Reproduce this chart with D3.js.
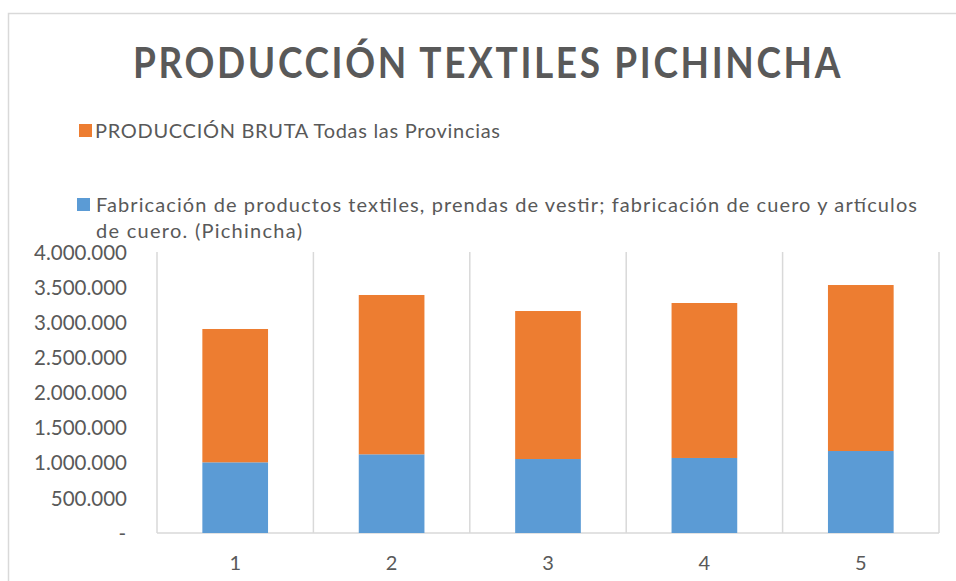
<!DOCTYPE html>
<html>
<head>
<meta charset="utf-8">
<script src="https://cdn.jsdelivr.net/npm/d3@7"></script>
<style>
  body { margin: 0; background: #fff; }
  text { font-family: Lato, "Open Sans", sans-serif; fill: #595959; }
</style>
</head>
<body>
<svg id="chart" width="956" height="581"></svg>
<script>
// data
var categories = ["1", "2", "3", "4", "5"];
var fabricacion = [1006000, 1120000, 1053000, 1068000, 1167000];   // blue, bottom
var produccionBruta = [1898000, 2268000, 2107000, 2206000, 2363000]; // orange, top
var yTicks = [0, 500000, 1000000, 1500000, 2000000, 2500000, 3000000, 3500000, 4000000];

var seriesNames = [
  "Fabricación de productos textiles, prendas de vestir; fabricación de cuero y artículos de cuero. (Pichincha)",
  "PRODUCCIÓN BRUTA Todas las Provincias"
];
var colors = ["#5B9BD5", "#ED7D31"];

var svg = d3.select("#chart");

// chart border (cropped at right/bottom)
svg.append("rect")
  .attr("x", 8.5).attr("y", 13.5)
  .attr("width", 1000).attr("height", 1000)
  .attr("fill", "none")
  .attr("stroke", "#d9d9d9")
  .attr("stroke-width", 1.5);

// title
svg.append("text")
  .attr("x", 133).attr("y", 78)
  .attr("textLength", 710)
  .attr("lengthAdjust", "spacingAndGlyphs")
  .style("font-size", "42px")
  .style("font-weight", "bold")
  .style("letter-spacing", "3px")
  .text("PRODUCCIÓN TEXTILES PICHINCHA");

// scales
var x = d3.scaleBand().domain(categories).range([157, 939]).paddingInner(0);
var y = d3.scaleLinear().domain([0, 4000000]).range([533, 252]);

var rows = categories.map(function(c, i) {
  return { cat: c, fab: fabricacion[i], bruta: produccionBruta[i] };
});
var stack = d3.stack().keys(["fab", "bruta"]);
var layers = stack(rows);

// vertical gridlines at category boundaries
var bounds = categories.map(function(c) { return x(c); }).concat([x.range()[1]]);
svg.selectAll(".vgrid")
  .data(bounds)
  .join("line")
  .attr("class", "vgrid")
  .attr("x1", function(d) { return d; })
  .attr("x2", function(d) { return d; })
  .attr("y1", y(4000000))
  .attr("y2", y(0))
  .attr("stroke", "#d9d9d9")
  .attr("stroke-width", 1.5);

// baseline
svg.append("line")
  .attr("x1", x.range()[0]).attr("x2", x.range()[1])
  .attr("y1", y(0)).attr("y2", y(0))
  .attr("stroke", "#d9d9d9")
  .attr("stroke-width", 1.5);

// bars
var barW = x.bandwidth() * 0.42;
svg.selectAll(".layer")
  .data(layers)
  .join("g")
  .attr("class", "layer")
  .attr("fill", function(d, i) { return colors[i]; })
  .selectAll("rect")
  .data(function(d) { return d; })
  .join("rect")
  .attr("x", function(d) { return x(d.data.cat) + (x.bandwidth() - barW) / 2; })
  .attr("y", function(d) { return y(d[1]); })
  .attr("height", function(d) { return y(d[0]) - y(d[1]); })
  .attr("width", barW);

// y axis labels
var locale = d3.formatLocale({ decimal: ",", thousands: ".", grouping: [3], currency: ["", ""] });
var fmt = locale.format(",.0f");
var yAxis = d3.axisLeft(y)
  .tickValues(yTicks)
  .tickSize(0)
  .tickPadding(0)
  .tickFormat(function(d) { return d === 0 ? "-" : fmt(d); });
var gy = svg.append("g")
  .attr("transform", "translate(127,0)")
  .call(yAxis);
gy.select(".domain").remove();
gy.selectAll("text")
  .style("font-size", "20.5px")
  .attr("fill", "#595959")
  .attr("dy", "0.35em")
  .attr("dx", function(d) { return d === 0 ? -1 : 0; });

// x axis labels
var xAxis = d3.axisBottom(x).tickSize(0).tickPadding(0);
var gx = svg.append("g")
  .attr("transform", "translate(0,563)")
  .call(xAxis);
gx.select(".domain").remove();
gx.selectAll("text")
  .style("font-size", "20px")
  .attr("fill", "#595959")
  .attr("dy", "0.35em");

// legend
var legend = [
  { name: seriesNames[1], color: colors[1], sx: 79, sy: 124,
    lines: ["PRODUCCIÓN BRUTA Todas las Provincias"], widths: [405], tx: 95, ty: 138 },
  { name: seriesNames[0], color: colors[0], sx: 77, sy: 198,
    lines: ["Fabricación de productos textiles, prendas de vestir; fabricación de cuero y artículos", "de cuero. (Pichincha)"],
    widths: [821, 206], tx: 96, ty: 212 }
];
var lg = svg.selectAll(".legend")
  .data(legend)
  .join("g")
  .attr("class", "legend");
lg.append("rect")
  .attr("x", function(d) { return d.sx; })
  .attr("y", function(d) { return d.sy; })
  .attr("width", 13).attr("height", 13)
  .attr("fill", function(d) { return d.color; });
lg.each(function(d) {
  var g = d3.select(this);
  d.lines.forEach(function(line, i) {
    g.append("text")
      .attr("x", d.tx)
      .attr("y", d.ty + i * 26)
      .attr("textLength", d.widths[i])
      .attr("lengthAdjust", "spacing")
      .style("font-size", "20px")
      .text(line);
  });
});
</script>
</body>
</html>
